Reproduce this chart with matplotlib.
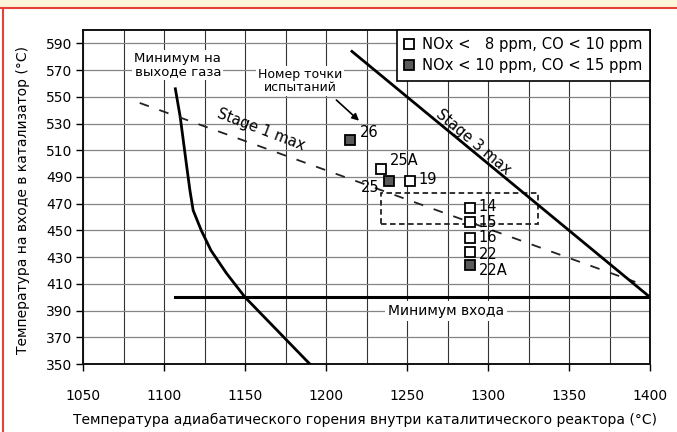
import matplotlib
matplotlib.use('Agg')
import matplotlib.pyplot as plt
from matplotlib.patches import Rectangle
from matplotlib.lines import Line2D
import numpy as np

plt.rcParams['font.family'] = ['DejaVu Sans']
plt.rcParams['lines.scale_dashes'] = False

# ---------------- data ----------------
x_ticks = [1050, 1100, 1150, 1200, 1250, 1300, 1350, 1400]
y_ticks = [350, 370, 390, 410, 430, 450, 470, 490, 510, 530, 550, 570, 590]

outlet_min_x = [1107, 1110, 1114, 1116, 1118, 1123, 1129, 1138.5, 1150, 1170, 1190]
outlet_min_y = [556, 535, 498, 480, 465, 450, 435, 418, 400, 375, 350]

stage1_x = [1085, 1391]
stage1_y = [545.4, 411.4]

stage3_x = [1216, 1400]
stage3_y = [584, 400]

inlet_min_x = [1107, 1400]
inlet_min_y = [400, 400]

box_x = [1234, 1331]
box_y = [455, 478]

point_names = ['26', '25A', '25', '19', '14', '15', '16', '22', '22A']
point_x = [1215, 1234, 1239, 1252, 1289, 1289, 1289, 1289, 1289]
point_y = [518, 496, 487, 487, 467, 456, 444, 434, 424]
point_filled = [True, False, True, False, False, False, False, False, True]

legend_labels = ['NOx <   8 ppm, CO < 10 ppm', 'NOx < 10 ppm, CO < 15 ppm']

# label offsets (points) for point numbers
label_offsets = [(7, 5), (6, 6), (-7, -5), (6, 1), (6, 1), (6, 0), (6, 1), (6, -2), (6, -4)]
label_ha = ['left', 'left', 'right', 'left', 'left', 'left', 'left', 'left', 'left']

# ---------------- figure ----------------
W, H = 677, 432
fig = plt.figure(figsize=(W / 100, H / 100), dpi=100)
fig.patch.set_facecolor('white')
# decorative page frame
fig.patches.append(Rectangle((0, 1 - 7 / H), 1, 7 / H, transform=fig.transFigure,
                             facecolor='#FDF5D9', edgecolor='none', zorder=0))
fig.lines.append(Line2D([0, 1], [1 - 8 / H, 1 - 8 / H], transform=fig.transFigure,
                        color='#E5403A', lw=1.5))
fig.lines.append(Line2D([2.5 / W, 2.5 / W], [0, 1 - 8 / H], transform=fig.transFigure,
                        color='#E5403A', lw=1.5))

ax = fig.add_axes([83 / W, 1 - 364 / H, (650 - 83) / W, (364 - 30) / H])
ax.set_xlim(1050, 1400)
ax.set_ylim(350, 600)

ax.set_xticks(x_ticks)
ax.set_xticks(np.arange(1075, 1400, 50), minor=True)
ax.set_yticks(y_ticks)
ax.tick_params(axis='both', which='major', direction='out', length=5, width=1.0,
               labelsize=10, colors='black')
ax.tick_params(axis='x', which='major', pad=13)
ax.tick_params(axis='y', which='major', pad=2.5)
ax.tick_params(axis='x', which='minor', length=0)

ax.grid(True, axis='x', which='both', color='#333333', lw=0.8, zorder=0)
ax.grid(True, axis='y', which='major', color='#858585', lw=0.9, zorder=0)
ax.set_axisbelow(True)
for s in ax.spines.values():
    s.set_linewidth(1.4)
    s.set_color('#111111')

# curves
ax.plot(outlet_min_x, outlet_min_y, color='black', lw=2.0, zorder=4)
ax.plot(stage1_x, stage1_y, color='#222222', lw=1.3, dashes=(7, 8), zorder=4)
ax.plot(stage3_x, stage3_y, color='black', lw=2.0, zorder=4)
ax.plot(inlet_min_x, inlet_min_y, color='black', lw=2.2, zorder=4)

ax.add_patch(Rectangle((box_x[0], box_y[0]), box_x[1] - box_x[0], box_y[1] - box_y[0],
                       fill=False, edgecolor='#222222', lw=1.3, linestyle=(0, (4, 2.5)),
                       zorder=3))

# points
for name, x, y, f, off, ha in zip(point_names, point_x, point_y, point_filled,
                                  label_offsets, label_ha):
    ax.plot([x], [y], marker='s', ms=7.2, mew=1.3, mec='black',
            mfc='#5a5a5a' if f else 'white', ls='none', zorder=6)
    ax.annotate(name, (x, y), xytext=off, textcoords='offset points',
                ha=ha, va='center', fontsize=10.5, zorder=7)

# texts
wb = dict(facecolor='white', edgecolor='none', pad=1.5)
ax.text(1108.5, 573.8, 'Минимум на\nвыходе газа', ha='center', va='center',
        fontsize=9.5, linespacing=1.05, bbox=wb, zorder=5)
ax.text(1184, 561.8, 'Номер точки\nиспытаний', ha='center', va='center',
        fontsize=9, linespacing=1.05, bbox=wb, zorder=5)
ax.annotate('', xy=(1220.4, 532.1), xytext=(1206.4, 547.6),
            arrowprops=dict(arrowstyle='-|>', color='black', lw=1.2,
                            mutation_scale=10, shrinkA=0, shrinkB=0), zorder=6)
ax.text(1160, 525.2, 'Stage 1 max', ha='center', va='center', rotation=-21,
        fontsize=10.5, zorder=5, rotation_mode='anchor')
ax.text(1290.7, 516.4, 'Stage 3 max', ha='center', va='center', rotation=-40,
        fontsize=10.5, zorder=5, rotation_mode='anchor')
ax.text(1274, 389.7, 'Минимум входа', ha='center', va='center', fontsize=10,
        bbox=dict(facecolor='white', edgecolor='none', pad=2), zorder=5)

# legend
handles = [Line2D([], [], marker='s', ms=7.2, mew=1.3, mec='black', mfc='white', ls='none'),
           Line2D([], [], marker='s', ms=7.2, mew=1.3, mec='black', mfc='#5a5a5a', ls='none')]
leg = ax.legend(handles, legend_labels, loc='upper right', bbox_to_anchor=(1, 1),
                borderaxespad=0, fontsize=10.6, frameon=True, fancybox=False,
                handlelength=0.7, handletextpad=0.55, borderpad=0.5, labelspacing=0.4,
                framealpha=1)
leg.get_frame().set_edgecolor('black')
leg.get_frame().set_linewidth(1.2)
leg.set_zorder(8)

ax.set_xlabel('Температура адиабатического горения внутри каталитического реактора (°C)',
              fontsize=10)
ax.xaxis.set_label_coords(0.497, -0.168)
ax.xaxis.label.set_va('center')
ax.set_ylabel('Температура на входе в катализатор (°C)', fontsize=10)
ax.yaxis.set_label_coords(-0.105, 0.491)
ax.yaxis.label.set_va('center')

fig.savefig('out.png', dpi=100)
